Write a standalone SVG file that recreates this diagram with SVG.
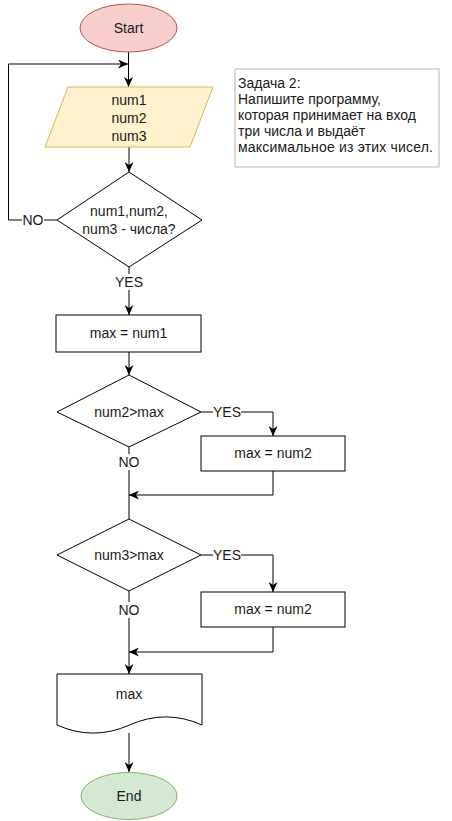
<svg xmlns="http://www.w3.org/2000/svg" width="452" height="821" viewBox="0 0 452 821">
<style>
text{font-family:"Liberation Sans",Arial,sans-serif;font-size:14px;fill:#1a1a1a;text-anchor:middle}
.n{fill:#ffffff;stroke:#000;stroke-width:1}
.c{fill:none;stroke:#000;stroke-width:1}
.lb{fill:#ffffff}
.note{font-size:14px;text-anchor:start}
</style>
<defs>
<marker id="a" viewBox="0 0 10 10" refX="10" refY="5" markerWidth="10" markerHeight="9" markerUnits="userSpaceOnUse" orient="auto" preserveAspectRatio="none">
<path d="M0,0 L10,5 L0,10 L3,5 Z" fill="#000"/>
</marker>
</defs>
<rect width="452" height="821" fill="#fff"/>
<g id="connectors">
<path class="c" d="M128.5,52 V87" marker-end="url(#a)"/>
<path class="c" d="M129,147 V172" marker-end="url(#a)"/>
<path class="c" d="M57,220 H8.5 V64 H128" marker-end="url(#a)"/>
<path class="c" d="M129,267 V315" marker-end="url(#a)"/>
<path class="c" d="M129,352 V375" marker-end="url(#a)"/>
<path class="c" d="M201,412 H273 V436" marker-end="url(#a)"/>
<path class="c" d="M129,447 V519"/>
<path class="c" d="M273,471 V495 H129" marker-end="url(#a)"/>
<path class="c" d="M201,555 H273 V592" marker-end="url(#a)"/>
<path class="c" d="M129,591 V674" marker-end="url(#a)"/>
<path class="c" d="M273,627 V652 H129" marker-end="url(#a)"/>
<path class="c" d="M129,733 V772" marker-end="url(#a)"/>
<rect class="lb" x="22" y="212" width="22" height="16"/>
<text x="33" y="225">NO</text>
<rect class="lb" x="115" y="274" width="28" height="16"/>
<text x="129" y="287">YES</text>
<rect class="lb" x="213" y="404" width="28" height="16"/>
<text x="227" y="417">YES</text>
<rect class="lb" x="118" y="454" width="22" height="16"/>
<text x="129" y="467">NO</text>
<rect class="lb" x="213" y="547" width="28" height="16"/>
<text x="227" y="560">YES</text>
<rect class="lb" x="118" y="602" width="22" height="16"/>
<text x="129" y="615">NO</text>
</g>
<g id="start">
<ellipse cx="128.5" cy="28" rx="48.5" ry="24" fill="#f8cecc" stroke="#b85450"/>
<text x="128.5" y="33">Start</text>
</g>
<g id="input">
<polygon points="68,87 213,87 190,147 45,147" fill="#fff2cc" stroke="#d6b656"/>
<text x="129" y="105">num1</text>
<text x="129" y="123">num2</text>
<text x="129" y="141">num3</text>
</g>
<g id="note">
<rect x="235" y="69" width="204" height="98" fill="#fff" stroke="#b3b3b3"/>
<text class="note" x="238" y="88">Задача 2:</text>
<text class="note" x="238" y="104">Напишите программу,</text>
<text class="note" x="238" y="120">которая принимает на вход</text>
<text class="note" x="238" y="136">три числа и выдаёт</text>
<text class="note" x="238" y="152" textLength="195" lengthAdjust="spacing">максимальное из этих чисел.</text>
</g>
<g id="check">
<polygon class="n" points="129,172 202,220 129,267 57,220"/>
<text x="129" y="216">num1,num2,</text>
<text x="129" y="234">num3 - числа?</text>
</g>
<g id="assign1">
<rect class="n" x="56" y="315" width="145" height="37"/>
<text x="128.5" y="338">max = num1</text>
</g>
<g id="cmp2">
<polygon class="n" points="129,375 201,412 129,447 57,412"/>
<text x="129" y="417">num2&gt;max</text>
</g>
<g id="assign2">
<rect class="n" x="201" y="436" width="144" height="35"/>
<text x="273" y="458">max = num2</text>
</g>
<g id="cmp3">
<polygon class="n" points="129,519 201,555 129,591 57,555"/>
<text x="129" y="560">num3&gt;max</text>
</g>
<g id="assign3">
<rect class="n" x="201" y="592" width="144" height="35"/>
<text x="273" y="614">max = num2</text>
</g>
<g id="output">
<path class="n" d="M57,674 H202 V725 Q165.75,708.8 129.5,725 Q93.25,741.2 57,725 Z"/>
<text x="129" y="699">max</text>
</g>
<g id="end">
<ellipse cx="129" cy="796" rx="48" ry="23.5" fill="#d5e8d4" stroke="#82b366"/>
<text x="129" y="801">End</text>
</g>
</svg>
